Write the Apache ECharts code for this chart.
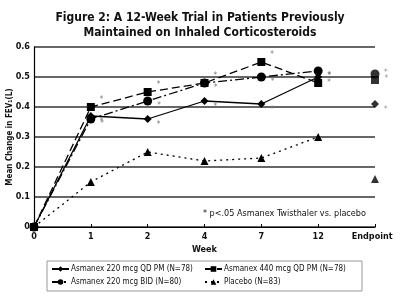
<!DOCTYPE html>
<html>
<head>
<meta charset="utf-8">
<script src="https://cdn.jsdelivr.net/npm/echarts@6/dist/echarts.min.js"></script>
<style>
  html, body { margin: 0; padding: 0; background: #fff; }
  #chart { width: 400px; height: 298px; }
</style>
</head>
<body>
<div id="chart"></div>
<script>
var weeks = ['0', '1', '2', '4', '7', '12', 'Endpoint'];

// values for week 0..12 (lines), endpoint kept apart (marker only)
var qd220 = [0, 0.37, 0.36, 0.42, 0.41, 0.50];
var qd440 = [0, 0.40, 0.45, 0.48, 0.55, 0.48];
var bid220 = [0, 0.36, 0.42, 0.48, 0.50, 0.52];
var placebo = [0, 0.15, 0.25, 0.22, 0.23, 0.30];

var endQd220 = 0.41;
var endQd440 = 0.49;
var endBid220 = 0.51;
var endPlacebo = 0.16;

var names = [
    'Asmanex 220 mcg QD PM (N=78)',
    'Asmanex 440 mcg QD PM (N=78)',
    'Asmanex 220 mcg BID (N=80)',
    'Placebo (N=83)'
];

var font = "'Liberation Sans Narrow', 'DejaVu Sans Condensed', 'Liberation Sans', sans-serif";

var myChart = echarts.init(document.getElementById('chart'));

var starLabel = function (offset) {
    return {
        show: !!offset,
        formatter: function (p) { return p.dataIndex > 0 ? '*' : ''; },
        position: 'right',
        offset: offset || [0, 0],
        fontSize: 8,
        color: '#777'
    };
};

var toLine = function (vals) {
    return vals.concat(['-']);
};
var toEnd = function (v) {
    return ['-', '-', '-', '-', '-', '-', v];
};

var series = [];
var groups = [
    [names[0], qd220, endQd220, 'diamond', 8, 'solid', [0, 6]],
    [names[1], qd440, endQd440, 'rect', 8, [8, 4], [0, -7]],
    [names[2], bid220, endBid220, 'circle', 9, [9, 3, 2, 3], [0, 5]],
    [names[3], placebo, endPlacebo, 'triangle', 8, [2, 4], null]
];

groups.forEach(function (g) {
    series.push({
        name: g[0],
        type: 'line',
        data: toLine(g[1]),
        symbol: g[3],
        symbolSize: g[4],
        showAllSymbol: true,
        color: '#000',
        lineStyle: { color: '#000', width: 1.3, type: g[5] },
        itemStyle: { color: '#000' },
        label: starLabel(g[6]),
        z: 3
    });
    series.push({
        name: g[0],
        type: 'scatter',
        data: toEnd(g[2]),
        symbol: g[3],
        symbolSize: g[4],
        itemStyle: { color: '#000' },
        label: starLabel(g[6]),
        z: 3
    });
});

var legendText = { fontFamily: font, fontSize: 8, color: '#111', padding: [0, 0, 0, -3] };

var option = {
    backgroundColor: '#fff',
    animation: false,
    textStyle: { fontFamily: font },
    title: {
        text: 'Figure 2: A 12-Week Trial in Patients Previously\nMaintained on Inhaled Corticosteroids',
        left: 'center',
        top: 5,
        textStyle: {
            fontFamily: font,
            fontSize: 12,
            fontWeight: 'bold',
            color: '#111',
            lineHeight: 15
        }
    },
    grid: { left: 34, right: 25, top: 47, bottom: 71, outerBoundsMode: 'none' },
    legend: [{
        data: [names[0], names[2]],
        orient: 'vertical',
        left: 51,
        top: 265,
        itemWidth: 17,
        itemHeight: 7,
        itemGap: 5,
        padding: 0,
        textStyle: legendText
    }, {
        data: [names[1], names[3]],
        orient: 'vertical',
        left: 204,
        top: 265,
        itemWidth: 17,
        itemHeight: 7,
        itemGap: 5,
        padding: 0,
        textStyle: legendText
    }],
    graphic: [{
        type: 'rect',
        shape: { x: 47, y: 261, width: 315, height: 30 },
        style: { fill: 'none', stroke: '#999', lineWidth: 1 },
        silent: true
    }, {
        type: 'text',
        left: 203,
        top: 209,
        style: {
            text: '* p<.05 Asmanex Twisthaler vs. placebo',
            font: '9px ' + font,
            fill: '#111'
        }
    }],
    xAxis: {
        type: 'category',
        data: weeks,
        boundaryGap: false,
        name: 'Week',
        nameLocation: 'middle',
        nameGap: 18,
        nameMoveOverlap: false,
        nameTextStyle: { fontFamily: font, fontSize: 9, fontWeight: 'bold', color: '#111' },
        axisLine: { lineStyle: { color: '#000', width: 1.2 } },
        axisTick: { show: true, length: 3, inside: true, lineStyle: { color: '#000' } },
        axisLabel: {
            fontFamily: font, fontSize: 9, fontWeight: 'bold', color: '#111', margin: 5,
            interval: 0,
            formatter: function (v, i) { return i === 6 ? v + '  ' : v; }
        },
        splitLine: { show: false }
    },
    yAxis: {
        type: 'value',
        min: 0,
        max: 0.6,
        interval: 0.1,
        name: 'Mean Change in FEV\u2081(L)',
        nameLocation: 'middle',
        nameGap: 20,
        nameMoveOverlap: false,
        nameTextStyle: { fontFamily: font, fontSize: 8, fontWeight: 'bold', color: '#111' },
        axisLine: { show: true, lineStyle: { color: '#000', width: 1.2 } },
        axisTick: { show: false },
        axisLabel: {
            fontFamily: font, fontSize: 9, fontWeight: 'bold', color: '#111', margin: 4,
            formatter: function (v) { return v === 0 ? '0' : v.toFixed(1); }
        },
        splitLine: { lineStyle: { color: '#333', width: 1.5 } }
    },
    series: series
};

myChart.setOption(option);
</script>
</body>
</html>
